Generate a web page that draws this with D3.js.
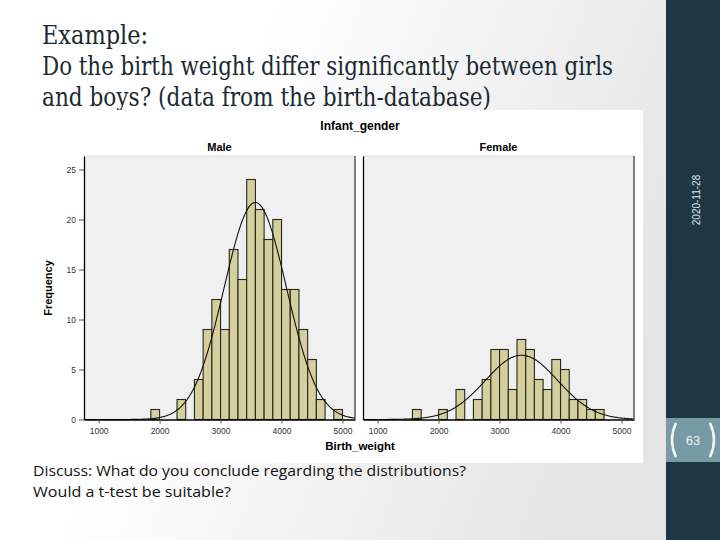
<!DOCTYPE html>
<html>
<head>
<meta charset="utf-8">
<script src="https://cdn.jsdelivr.net/npm/d3@7"></script>
<style>
  body { margin: 0; }
  svg { display: block; }
</style>
</head>
<body>
<div class="slide"></div>
<script>
var width = 720
var height = 540

// histogram bins: bin j covers [j*binWidth, (j+1)*binWidth)
var binWidth = 1000 / 7
var binIndex = [11, 12, 13, 14, 15, 16, 17, 18, 19, 20, 21, 22, 23, 24, 25, 26, 27, 28, 29, 30, 31, 32, 33, 34]
var maleFreq = [0, 0, 1, 0, 0, 2, 0, 4, 9, 12, 9, 17, 14, 24, 21, 18, 20, 13, 13, 9, 6, 2, 0, 1]
var femaleFreq = [1, 0, 0, 1, 0, 3, 0, 2, 4, 7, 7, 3, 8, 7, 4, 3, 6, 5, 2, 2, 1, 1, 0, 0]

// fitted normal curves
var genders = ['Male', 'Female']
var means = [3570, 3360]
var sds = [512, 594]

var xTicks = [1000, 2000, 3000, 4000, 5000]
var yTicks = [0, 5, 10, 15, 20, 25]

var titleLines = ['Example:', 'Do the birth weight differ significantly between girls', 'and boys? (data from the birth-database)']
var noteLines = ['Discuss: What do you conclude regarding the distributions?', 'Would a t-test be suitable?']

var svg = d3.select('.slide').append('svg')
    .attr('width', width)
    .attr('height', height)

var defs = svg.append('defs')
var grad = defs.append('linearGradient').attr('id', 'bg').attr('x1', 0).attr('x2', 1).attr('y1', 0).attr('y2', 0.3)
grad.append('stop').attr('offset', '0.35').attr('stop-color', '#ffffff')
grad.append('stop').attr('offset', '1').attr('stop-color', '#e4e4e4')

svg.append('rect').attr('width', width).attr('height', height).attr('fill', 'url(#bg)')

// sidebar
svg.append('rect').attr('x', 666).attr('y', 0).attr('width', 54).attr('height', height).attr('fill', '#1f3743')
svg.append('text')
    .attr('transform', 'translate(700,200) rotate(-90)')
    .attr('text-anchor', 'middle')
    .attr('font-family', 'Liberation Sans, Arial, sans-serif')
    .attr('font-size', 10)
    .attr('fill', '#dfe6e9')
    .text('2020-11-28')
svg.append('rect').attr('x', 666).attr('y', 418).attr('width', 54).attr('height', 44).attr('fill', '#779aa5')
svg.append('path')
    .attr('d', 'M676,423 Q668,440 676,457 M710,423 Q718,440 710,457')
    .attr('fill', 'none').attr('stroke', '#f4f7f8').attr('stroke-width', 2.5)
svg.append('text')
    .attr('x', 693).attr('y', 445)
    .attr('text-anchor', 'middle')
    .attr('font-family', 'Liberation Sans, Arial, sans-serif')
    .attr('font-size', 13)
    .attr('fill', '#e8eef0')
    .text('63')

// title
svg.selectAll('.title')
    .data(titleLines)
    .enter()
    .append('text')
    .attr('class', 'title')
    .attr('x', 42)
    .attr('y', function (d, i) { return 44 + i * 31 })
    .attr('font-family', 'DejaVu Serif Condensed, DejaVu Serif, serif')
    .attr('font-size', 26)
    .attr('fill', '#1a2a33')
    .attr('textLength', function (d, i) { return [106, 571, 449][i] })
    .attr('lengthAdjust', 'spacingAndGlyphs')
    .text(function (d) { return d })

// chart image box
svg.append('rect').attr('x', 29).attr('y', 110).attr('width', 614).attr('height', 353).attr('fill', '#ffffff')

var chartFont = 'Liberation Sans, Arial, sans-serif'

svg.append('text')
    .attr('x', 360).attr('y', 130)
    .attr('text-anchor', 'middle')
    .attr('font-family', chartFont).attr('font-weight', 'bold').attr('font-size', 12)
    .text('Infant_gender')

svg.append('text')
    .attr('transform', 'translate(52,288) rotate(-90)')
    .attr('text-anchor', 'middle')
    .attr('font-family', chartFont).attr('font-weight', 'bold').attr('font-size', 11)
    .text('Frequency')

svg.append('text')
    .attr('x', 360).attr('y', 450)
    .attr('text-anchor', 'middle')
    .attr('font-family', chartFont).attr('font-weight', 'bold').attr('font-size', 11.5)
    .text('Birth_weight')

var panelLefts = [84, 363]
var panelW = 271
var plotTop = 156
var plotBottom = 419.5

var y = d3.scaleLinear().domain([0, 26.35]).range([plotBottom, plotTop])

genders.forEach(function (g, gi) {
    var left = panelLefts[gi]
    var x = d3.scaleLinear().domain([760, 5205]).range([left, left + panelW])
    var freq = gi === 0 ? maleFreq : femaleFreq
    var panel = svg.append('g')

    panel.append('text')
        .attr('x', left + panelW / 2).attr('y', 151)
        .attr('text-anchor', 'middle')
        .attr('font-family', chartFont).attr('font-weight', 'bold').attr('font-size', 11)
        .text(g)

    panel.append('rect')
        .attr('x', left).attr('y', plotTop)
        .attr('width', panelW).attr('height', plotBottom - plotTop)
        .attr('fill', '#f0f0f0')
    panel.append('line')
        .attr('x1', left).attr('x2', left + panelW).attr('y1', plotTop).attr('y2', plotTop)
        .attr('stroke', '#dcdcdc')

    var bins = binIndex.map(function (j, i) { return { x0: j * binWidth, x1: (j + 1) * binWidth, n: freq[i] } })
        .filter(function (b) { return b.n > 0 })

    panel.selectAll('.bar')
        .data(bins)
        .enter()
        .append('rect')
        .attr('class', 'bar')
        .attr('x', function (d) { return x(d.x0) })
        .attr('width', function (d) { return x(d.x1) - x(d.x0) })
        .attr('y', function (d) { return y(d.n) })
        .attr('height', function (d) { return y(0) - y(d.n) })
        .attr('fill', '#d4cf9d')
        .attr('stroke', '#26261c')
        .attr('stroke-width', 1.1)

    var n = d3.sum(freq)
    var mu = means[gi], sd = sds[gi]
    var curveX = d3.range(760, 5206, 15)
    var line = d3.line()
        .x(function (d) { return x(d) })
        .y(function (d) { return y(n * binWidth / (sd * Math.sqrt(2 * Math.PI)) * Math.exp(-0.5 * Math.pow((d - mu) / sd, 2))) })
        .curve(d3.curveBasis)
    panel.append('path')
        .datum(curveX)
        .attr('d', line)
        .attr('fill', 'none')
        .attr('stroke', '#111')
        .attr('stroke-width', 1.1)

    // right frame
    panel.append('line')
        .attr('x1', left + panelW).attr('x2', left + panelW).attr('y1', plotTop).attr('y2', plotBottom)
        .attr('stroke', '#333').attr('stroke-width', 1.2)

    var xAxis = panel.append('g')
        .attr('transform', 'translate(0,' + plotBottom + ')')
        .call(d3.axisBottom(x).tickValues(xTicks).tickFormat(d3.format('d')).tickSize(4).tickSizeOuter(0))
    xAxis.select('.domain').attr('stroke', '#000').attr('stroke-width', 1.3)
    xAxis.selectAll('.tick line').attr('stroke', '#555')
    xAxis.selectAll('text').attr('font-family', chartFont).attr('font-size', 8.5).attr('fill', '#333').attr('dy', '0.9em')

    var yAxis = panel.append('g')
        .attr('transform', 'translate(' + left + ',0)')
        .call(d3.axisLeft(y).tickValues(gi === 0 ? yTicks : []).tickSize(5).tickSizeOuter(0))
    yAxis.select('.domain').attr('stroke', '#000').attr('stroke-width', 1.3)
    yAxis.selectAll('.tick line').attr('stroke', '#555')
    yAxis.selectAll('text').attr('font-family', chartFont).attr('font-size', 8.5).attr('fill', '#333')
})

// discussion text
svg.selectAll('.note')
    .data(noteLines)
    .enter()
    .append('text')
    .attr('class', 'note')
    .attr('x', 33)
    .attr('y', function (d, i) { return 476 + i * 21 })
    .attr('font-family', 'Open Sans, sans-serif')
    .attr('font-size', 15)
    .attr('fill', '#111')
    .attr('textLength', function (d, i) { return [433, 198][i] })
    .attr('lengthAdjust', 'spacingAndGlyphs')
    .text(function (d) { return d })
</script>
</body>
</html>
